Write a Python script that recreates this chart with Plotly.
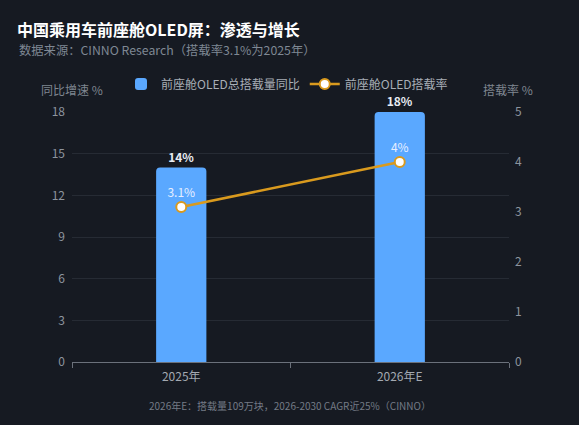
import plotly.graph_objects as go

categories = ["2025年", "2026年E"]
growth_yoy = [14, 18]
growth_labels = ["<b>14%</b>", "<b>18%</b>"]
penetration = [3.1, 4.0]
penetration_labels = ["3.1%", "4%"]
left_ticks = [0, 3, 6, 9, 12, 15, 18]
right_ticks = [0, 1, 2, 3, 4, 5]

BG = "#161a22"
FONT = "Noto Sans CJK SC"
GRAY = "#8d949e"

fig = go.Figure()
fig.add_trace(go.Bar(
    x=categories, y=growth_yoy, name="前座舱OLED总搭载量同比",
    marker=dict(color="#5aa8ff", cornerradius=4, line=dict(width=0)),
    width=0.23, text=growth_labels, textposition="outside",
    textfont=dict(color="#e8ecf2", size=12, family=FONT),
    cliponaxis=False, yaxis="y",
))
fig.add_trace(go.Scatter(
    x=categories, y=penetration, name="前座舱OLED搭载率",
    mode="lines+markers+text",
    line=dict(color="#d99a1e", width=2.5),
    marker=dict(color="#ffffff", size=10, line=dict(color="#d99a1e", width=2)),
    text=penetration_labels, textposition="top center",
    textfont=dict(color="#e6efff", size=12, family=FONT),
    cliponaxis=False, yaxis="y2",
))

fig.update_layout(
    width=579, height=425,
    paper_bgcolor=BG, plot_bgcolor=BG,
    margin=dict(l=72, r=70, t=112, b=63),
    font=dict(family=FONT, color=GRAY, size=12),
    title=dict(text="<b>中国乘用车前座舱OLED屏：渗透与增长</b>",
               font=dict(size=16, color="#ffffff", family=FONT),
               xref="container", x=17/579, xanchor="left",
               yref="container", y=1-30/425, yanchor="middle"),
    showlegend=True,
    legend=dict(orientation="h", x=0.492, xanchor="center", y=1.112, yanchor="middle",
                font=dict(size=12, color="#a8aeb6", family=FONT),
                bgcolor="rgba(0,0,0,0)", itemwidth=30),
    bargap=0.77,
    xaxis=dict(type="category", tickson="boundaries", ticks="outside", ticklen=5,
               tickcolor="#6b717b", showline=True, linecolor="#6b717b", linewidth=1,
               showgrid=False, ticklabelstandoff=4, tickfont=dict(size=12, color="#a3a9b1")),
    yaxis=dict(range=[0, 18], tickvals=left_ticks, showgrid=True, gridcolor="#262b34",
               zeroline=False, showline=False, ticks="", ticklabelstandoff=6,
               tickfont=dict(size=12, color=GRAY)),
    yaxis2=dict(range=[0, 5], tickvals=right_ticks, overlaying="y", side="right",
                showgrid=False, zeroline=False, showline=False, ticks="", ticklabelstandoff=5,
                tickfont=dict(size=12, color=GRAY)),
    annotations=[
        dict(text="数据来源：CINNO Research（搭载率3.1%为2025年）", xref="paper", yref="paper",
             x=-0.126, y=(362-50)/250, xanchor="left", yanchor="middle", showarrow=False,
             font=dict(size=12.3, color="#7f8894", family=FONT)),
        dict(text="同比增速 %", xref="paper", yref="paper", x=(72-72)/437, y=(362-90)/250,
             xanchor="center", yanchor="middle", showarrow=False,
             font=dict(size=12, color="#7f8690", family=FONT)),
        dict(text="搭载率 %", xref="paper", yref="paper", x=(508-72)/437, y=(362-90)/250,
             xanchor="center", yanchor="middle", showarrow=False,
             font=dict(size=12, color="#7f8690", family=FONT)),
        dict(text="2026年E：搭载量109万块，2026-2030 CAGR近25%（CINNO）", xref="paper", yref="paper",
             x=(290-72)/437, y=(362-405)/250, xanchor="center", yanchor="middle", showarrow=False,
             font=dict(size=10, color="#747b86", family=FONT)),
    ],
)

fig.write_html("out.html", config={"displayModeBar": False},
               post_script="document.body.style.margin='0';document.body.style.background='#161a22';document.body.style.overflow='hidden';")
